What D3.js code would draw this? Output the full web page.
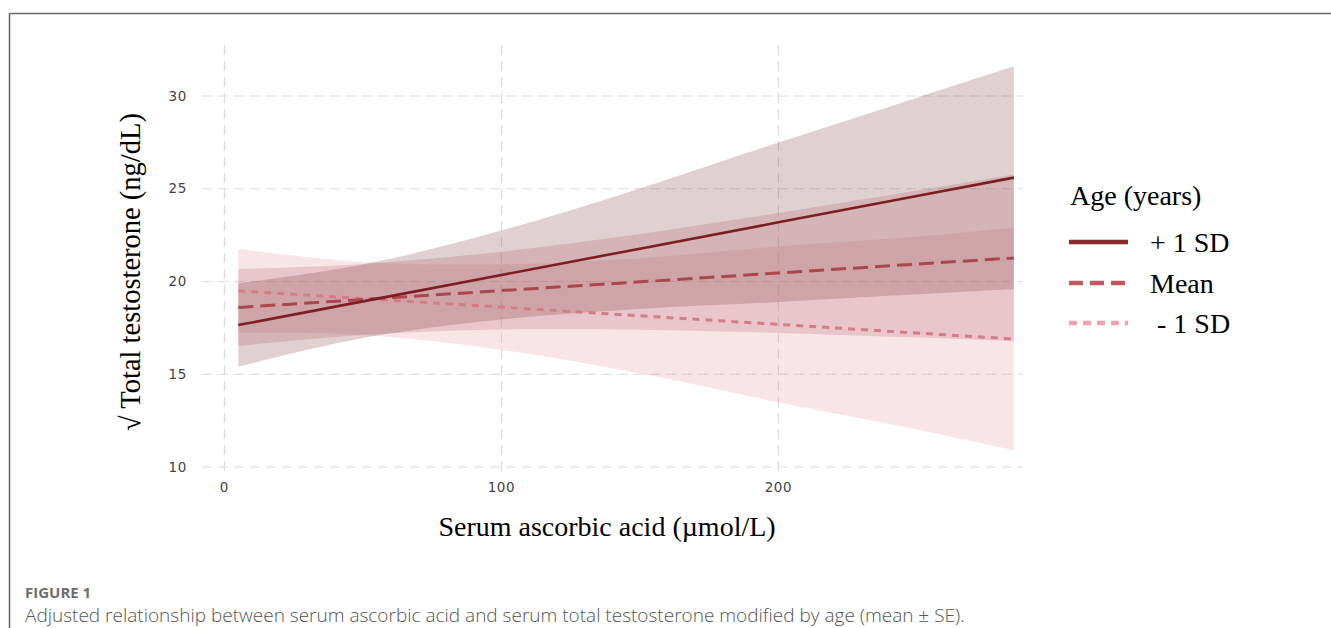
<!DOCTYPE html>
<html>
<head>
<meta charset="utf-8">
<script src="https://cdn.jsdelivr.net/npm/d3@7"></script>
<style>
  body { margin: 0; background: #fff; }
  svg { display: block; }
</style>
</head>
<body>
<script>
// values
var xs = [5, 50, 100, 150, 200, 250, 285];

var plusFit  = [17.65, 18.93, 20.35, 21.77, 23.19, 24.61, 25.6];
var plusLo   = [15.4, 16.95, 17.95, 18.52, 18.89, 19.31, 19.6];
var plusHi   = [19.9, 20.91, 22.75, 25.02, 27.49, 29.91, 31.6];

var meanFit  = [18.6, 19.03, 19.51, 19.98, 20.46, 20.94, 21.27];
var meanLo   = [16.53, 17.11, 17.41, 17.4, 17.23, 16.98, 16.77];
var meanHi   = [20.67, 20.95, 21.61, 22.56, 23.69, 24.9, 25.77];

var minusFit = [19.5, 19.08, 18.62, 18.15, 17.69, 17.22, 16.9];
var minusLo  = [17.25, 17.11, 16.31, 15.04, 13.49, 12.02, 10.9];
var minusHi  = [21.75, 21.05, 20.93, 21.26, 21.89, 22.42, 22.9];

var xTicks = [0, 100, 200];
var yTicks = [10, 15, 20, 25, 30];
var legendLabels = ["+ 1 SD", "Mean", " - 1 SD"];

var W = 1331, H = 628;

var svg = d3.select("body").append("svg")
  .attr("width", W)
  .attr("height", H);

// frame (top + left rule)
svg.append("line").attr("x1", 9.5).attr("x2", W).attr("y1", 13.5).attr("y2", 13.5)
  .attr("stroke", "#666").attr("stroke-width", 1.5);
svg.append("line").attr("x1", 9.5).attr("x2", 9.5).attr("y1", 13).attr("y2", H)
  .attr("stroke", "#666").attr("stroke-width", 1.5);

var x = d3.scaleLinear().domain([-8.1, 288.3]).range([202, 1023]);
var y = d3.scaleLinear().domain([9.73, 32.75]).range([472, 45]);

// grid
var grid = svg.append("g");
grid.selectAll(".gy").data(yTicks).enter().append("line")
  .attr("x1", 202).attr("x2", 1023)
  .attr("y1", function(d) { return y(d); })
  .attr("y2", function(d) { return y(d); })
  .attr("stroke", "#dcdcdc").attr("stroke-width", 1.2)
  .attr("stroke-dasharray", "10,6");
grid.selectAll(".gx").data(xTicks).enter().append("line")
  .attr("y1", 45).attr("y2", 472)
  .attr("x1", function(d) { return x(d); })
  .attr("x2", function(d) { return x(d); })
  .attr("stroke", "#dcdcdc").attr("stroke-width", 1.2)
  .attr("stroke-dasharray", "10,6");

// ribbons
var groups = [
  { fit: minusFit, lo: minusLo, hi: minusHi, fill: "#e08a94", op: 0.22, stroke: "#d97b84", dash: "7,6", w: 3 },
  { fit: meanFit, lo: meanLo, hi: meanHi, fill: "#b85a62", op: 0.22, stroke: "#a9474d", dash: "15,7", w: 3 },
  { fit: plusFit, lo: plusLo, hi: plusHi, fill: "#7d3a40", op: 0.24, stroke: "#7a1e24", dash: null, w: 2.6 }
];

var area = d3.area()
  .x(function(d) { return x(d.x); })
  .y0(function(d) { return y(d.lo); })
  .y1(function(d) { return y(d.hi); })
  .curve(d3.curveCatmullRom);

groups.forEach(function(g) {
  var pts = xs.map(function(v, i) { return { x: v, lo: g.lo[i], hi: g.hi[i] }; });
  svg.append("path").datum(pts)
    .attr("d", area)
    .attr("fill", g.fill)
    .attr("fill-opacity", g.op);
});

var line = d3.line()
  .x(function(d) { return x(d.x); })
  .y(function(d) { return y(d.v); });

groups.forEach(function(g) {
  var pts = xs.map(function(v, i) { return { x: v, v: g.fit[i] }; });
  svg.append("path").datum(pts)
    .attr("d", line)
    .attr("fill", "none")
    .attr("stroke", g.stroke)
    .attr("stroke-width", g.w)
    .attr("stroke-dasharray", g.dash);
});

// tick labels
svg.selectAll(".ty").data(yTicks).enter().append("text")
  .attr("x", 187).attr("y", function(d) { return y(d); })
  .attr("dy", "0.35em")
  .attr("text-anchor", "end")
  .style("font-family", "DejaVu Sans, sans-serif")
  .style("font-size", "13.5px")
  .style("letter-spacing", "0.6px")
  .style("fill", "#444")
  .text(function(d) { return d; });

svg.selectAll(".tx").data(xTicks).enter().append("text")
  .attr("x", function(d) { return x(d); }).attr("y", 487)
  .attr("dy", "0.35em")
  .attr("text-anchor", "middle")
  .style("font-family", "DejaVu Sans, sans-serif")
  .style("font-size", "13.5px")
  .style("letter-spacing", "0.6px")
  .style("fill", "#444")
  .text(function(d) { return d; });

// axis titles
svg.append("text")
  .attr("x", 607).attr("y", 536)
  .attr("text-anchor", "middle")
  .style("font-family", "Liberation Serif, Times New Roman, serif")
  .style("font-size", "28px")
  .style("fill", "#000")
  .text("Serum ascorbic acid (\u00b5mol/L)");

svg.append("text")
  .attr("transform", "translate(140,272) rotate(-90)")
  .attr("text-anchor", "middle")
  .style("font-family", "Liberation Serif, Times New Roman, serif")
  .style("font-size", "28.5px")
  .style("fill", "#000")
  .text("\u221a Total testosterone (ng/dL)");

// legend
var lg = svg.append("g");
lg.append("text")
  .attr("x", 1070).attr("y", 205)
  .style("font-family", "Liberation Serif, Times New Roman, serif")
  .style("font-size", "28px")
  .text("Age (years)");

var legendY = [242, 283, 323];
var legendStroke = ["#8b2a2e", "#c2585e", "#eaa5aa"];
var legendDash = [null, "14,7", "8,6"];
legendLabels.forEach(function(lab, i) {
  lg.append("line")
    .attr("x1", 1069).attr("x2", 1128)
    .attr("y1", legendY[i]).attr("y2", legendY[i])
    .attr("stroke", legendStroke[i])
    .attr("stroke-width", 4.5)
    .attr("stroke-dasharray", legendDash[i]);
  lg.append("text")
    .attr("x", 1150).attr("y", legendY[i] + 10)
    .style("font-family", "Liberation Serif, Times New Roman, serif")
    .style("font-size", "28px")
    .style("white-space", "pre")
    .attr("xml:space", "preserve")
    .text(lab);
});

// caption
svg.append("text")
  .attr("x", 25).attr("y", 598)
  .style("font-family", "Open Sans, sans-serif")
  .style("font-size", "15px")
  .style("font-weight", "bold")
  .style("fill", "#6d6d6d")
  .text("FIGURE 1");

svg.append("text")
  .attr("x", 25).attr("y", 622)
  .style("font-family", "Open Sans, sans-serif")
  .style("font-size", "19px")
  .style("font-weight", "300")
  .style("fill", "#555")
  .text("Adjusted relationship between serum ascorbic acid and serum total testosterone modified by age (mean \u00b1 SE).");
</script>
</body>
</html>
